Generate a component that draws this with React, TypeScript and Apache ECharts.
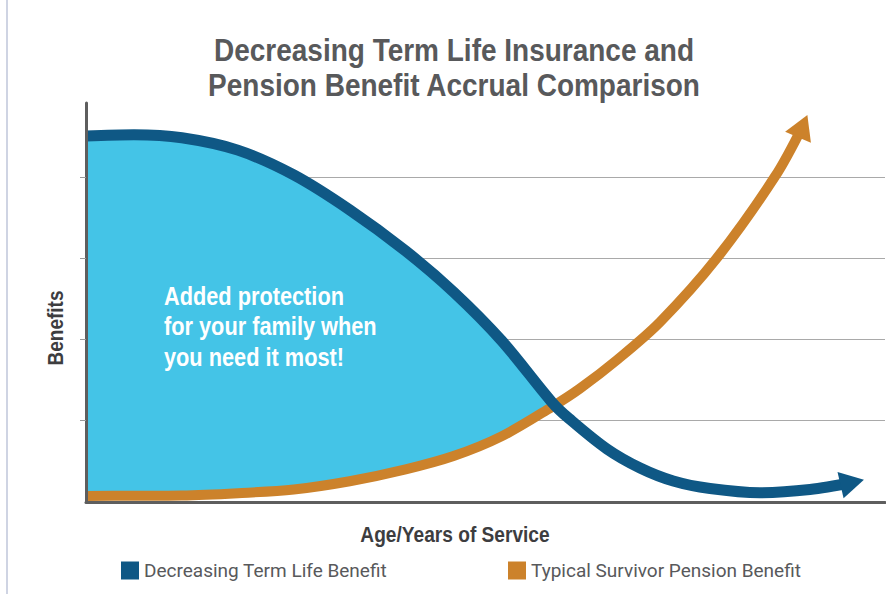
import React, { useEffect, useRef } from "react";
import * as echarts from "echarts";

// ---- text ----
const titleLines = ["Decreasing Term Life Insurance and", "Pension Benefit Accrual Comparison"];
const yAxisName = "Benefits";
const xAxisName = "Age/Years of Service";
const calloutLines = ["Added protection", "for your family when", "you need it most!"];
const seriesNames = ["Decreasing Term Life Benefit", "Typical Survivor Pension Benefit"];

// ---- data (x: age/service 0–100, y: benefit 0–98) ----
// samples shared by both curves, up to where they cross
const sharedAges = [0, 6, 12, 19, 26, 33, 40, 46, 52, 58.3];
const termLifeShared = [90.1, 90.4, 89.65, 86.6, 80.5, 71.9, 61.8, 51.7, 39.75, 24.6];
const pensionShared = [1.48, 1.53, 1.6, 2.17, 3.08, 5.1, 8.02, 11.3, 16.15, 23.4];
// after the crossing (last point = arrow head)
const termLifeTailAges = [60.45, 65.2, 69.35, 73.5, 78.1, 84.35, 90.6, 95.9];
const termLifeTail = [20.55, 13.05, 8.37, 5.17, 3.32, 2.29, 3.08, 4.8];
const pensionTailAges = [61.8, 66.45, 71.85, 78.95, 86.25, 89.7];
const pensionTail = [27.9, 34.95, 44.3, 60.0, 80.15, 92.5];
const gridTicks = [20, 40, 60, 80];

const BLUE = "#0f5885";
const ORANGE = "#cc822b";
const FILL = "#44c4e7";
const SANS = '"Liberation Sans", Arial, sans-serif';
const SMOOTH = 0.33;

function condensedText(
  text: string,
  x: number,
  y: number,
  size: number,
  color: string,
  scaleX: number,
  align: string,
  extra: any = {}
) {
  return {
    type: "text",
    x,
    y,
    scaleX,
    z: 10,
    ...extra,
    style: {
      text,
      fontFamily: SANS,
      fontWeight: "bold",
      fontSize: size,
      fill: color,
      align,
      verticalAlign: "middle",
    },
  };
}

export default function App() {
  const ref = useRef<HTMLDivElement>(null);
  useEffect(() => {
    const chart = echarts.init(ref.current!, null, { renderer: "svg" });
    const termData = [
      ...sharedAges.map((a, i) => [a, termLifeShared[i]]),
      ...termLifeTailAges.map((a, i) => [a, termLifeTail[i]]),
    ];
    const pensionData = [
      ...sharedAges.map((a, i) => [a, pensionShared[i]]),
      ...pensionTailAges.map((a, i) => [a, pensionTail[i]]),
    ];
    const legendBase = {
      top: 561,
      padding: 0,
      icon: "rect",
      itemWidth: 18,
      itemHeight: 18,
      selectedMode: false,
      textStyle: { fontFamily: "Roboto", fontSize: 19, color: "#58595b" },
    };
    const option: any = {
      animation: false,
      grid: { left: 86, right: 1, top: 103, bottom: 92, containLabel: false },
      xAxis: {
        type: "value",
        min: 0,
        max: 100,
        z: 5,
        axisLine: { show: true, lineStyle: { color: "#5e5e5e", width: 3 } },
        axisTick: { show: false },
        axisLabel: { show: false },
        splitLine: { show: false },
      },
      yAxis: [
        {
          type: "value",
          min: 0,
          max: 98.2,
          interval: 20,
          axisLine: { show: false },
          axisTick: { show: false },
          axisLabel: { show: false },
          splitLine: {
            show: true,
            showMinLine: false,
            showMaxLine: false,
            lineStyle: { color: "#a9a9a9", width: 1 },
          },
        },
        {
          type: "value",
          min: 0,
          max: 98.2,
          interval: 20,
          z: 5,
          position: "left",
          axisLine: { show: true, onZero: false, lineStyle: { color: "#5e5e5e", width: 3 } },
          axisTick: {
            show: true,
            length: 6,
            customValues: gridTicks,
            lineStyle: { color: "#9a9a9a", width: 1 },
          },
          axisLabel: { show: false },
          splitLine: { show: false },
        },
      ],
      legend: [
        { ...legendBase, data: [seriesNames[0]], left: 121 },
        { ...legendBase, data: [seriesNames[1]], left: 508 },
      ],
      series: [
        {
          type: "line",
          stack: "gap",
          data: sharedAges.map((a, i) => [pensionShared[i], a]),
          encode: { x: 1, y: 0 },
          symbol: "none",
          smooth: SMOOTH,
          silent: true,
          lineStyle: { width: 0, opacity: 0 },
          z: 1,
        },
        {
          type: "line",
          stack: "gap",
          data: sharedAges.map((a, i) => [termLifeShared[i] - pensionShared[i], a]),
          encode: { x: 1, y: 0 },
          symbol: "none",
          smooth: SMOOTH,
          silent: true,
          lineStyle: { width: 0, opacity: 0 },
          areaStyle: { color: FILL, opacity: 1 },
          z: 1,
        },
        {
          name: seriesNames[1],
          type: "line",
          data: pensionData,
          symbol: "none",
          smooth: SMOOTH,
          silent: true,
          itemStyle: { color: ORANGE },
          lineStyle: { color: ORANGE, width: 10, cap: "butt" },
          z: 3,
        },
        {
          name: seriesNames[0],
          type: "line",
          data: termData,
          symbol: "none",
          smooth: SMOOTH,
          silent: true,
          itemStyle: { color: BLUE },
          lineStyle: { color: BLUE, width: 11, cap: "butt" },
          z: 4,
        },
        {
          type: "scatter",
          silent: true,
          z: 6,
          data: [
            {
              value: termData[termData.length - 1],
              symbol: "triangle",
              symbolSize: [27, 24],
              symbolRotate: -77,
              itemStyle: { color: BLUE, opacity: 1 },
            },
            {
              value: pensionData[pensionData.length - 1],
              symbol: "triangle",
              symbolSize: [28, 24],
              symbolRotate: -23,
              itemStyle: { color: ORANGE, opacity: 1 },
            },
          ],
        },
      ],
      graphic: [
        {
          type: "line",
          shape: { x1: 7, y1: 0, x2: 7, y2: 594 },
          style: { stroke: "#cfd4e3", lineWidth: 2 },
        },
        condensedText(titleLines[0], 454, 50, 32, "#58595b", 0.875, "center"),
        condensedText(titleLines[1], 454, 85, 32, "#58595b", 0.875, "center"),
        condensedText(yAxisName, 55, 328, 22, "#3d3d3f", 0.865, "center", { rotation: Math.PI / 2 }),
        condensedText(xAxisName, 455, 534, 22, "#3d3d3f", 0.87, "center"),
        ...calloutLines.map((t, i) => condensedText(t, 164, 296 + i * 30.5, 25, "#ffffff", 0.87, "left")),
      ],
    };
    chart.setOption(option);
    return () => chart.dispose();
  }, []);
  return (
    <div
      ref={ref}
      style={{ position: "fixed", left: 0, top: 0, width: 886, height: 594, background: "#ffffff" }}
    />
  );
}
